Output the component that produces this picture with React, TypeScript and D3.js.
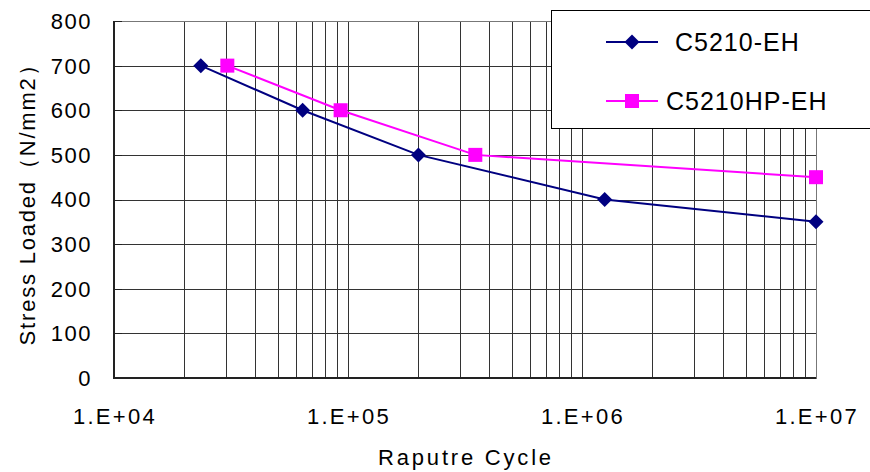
import React from "react";
import * as d3 from "d3";

const yTicks = [0, 100, 200, 300, 400, 500, 600, 700, 800];
const xDecades = [1e4, 1e5, 1e6, 1e7];
const xTickLabels = ["1.E+04", "1.E+05", "1.E+06", "1.E+07"];
const seriesNames = ["C5210-EH", "C5210HP-EH"];
const ehCycles = [2.35e4, 6.4e4, 2.0e5, 1.25e6, 1e7];
const ehStress = [700, 600, 500, 400, 350];
const hpCycles = [3.05e4, 9.3e4, 3.5e5, 1e7];
const hpStress = [700, 600, 500, 450];
const colors = ["#000080", "#FF00FF"];

const W = 870, H = 472;
const L = 114, R = 816, T = 21, B = 378;

export default function App() {
  const x = d3.scaleLog().domain([1e4, 1e7]).range([L, R]);
  const y = d3.scaleLinear().domain([0, 800]).range([B, T]);
  const minor: number[] = [];
  for (let d = 0; d < 3; d++) {
    for (let k = 2; k <= 9; k++) minor.push(xDecades[d] * k);
  }
  const line = d3.line<[number, number]>().x(d => x(d[0])).y(d => y(d[1]));
  const eh = ehCycles.map((c, i) => [c, ehStress[i]] as [number, number]);
  const hp = hpCycles.map((c, i) => [c, hpStress[i]] as [number, number]);
  const font = "'Liberation Sans', Arial, sans-serif";
  const diamond = (cx: number, cy: number, key: any) => (
    <path key={key} d={`M${cx},${cy - 7.5}L${cx + 7.5},${cy}L${cx},${cy + 7.5}L${cx - 7.5},${cy}Z`} fill={colors[0]} />
  );
  const square = (cx: number, cy: number, key: any) => (
    <rect key={key} x={cx - 7} y={cy - 7} width={14} height={14} fill={colors[1]} />
  );
  return (
    <svg width={W} height={H} style={{ position: "absolute", left: 0, top: 0, background: "#fff" }}>
      <rect x={0} y={0} width={W} height={H} fill="#fff" />
      {minor.concat(xDecades).map((v, i) => (
        <line key={"v" + i} x1={Math.round(x(v)) + 0.5} x2={Math.round(x(v)) + 0.5} y1={T} y2={B} stroke="#333" strokeWidth={1} />
      ))}
      {yTicks.map((v, i) => (
        <line key={"h" + i} x1={L} x2={R} y1={Math.round(y(v)) + 0.5} y2={Math.round(y(v)) + 0.5} stroke="#333" strokeWidth={1} />
      ))}
      <rect x={L + 0.5} y={T + 0.5} width={R - L} height={B - T} fill="none" stroke="#777" strokeWidth={1} />
      <line x1={L} x2={L} y1={T} y2={B + 1} stroke="#222" strokeWidth={2} />
      <line x1={L} x2={R} y1={B} y2={B} stroke="#222" strokeWidth={2} />
      {yTicks.map((v, i) => (
        <line key={"yt" + i} x1={L} x2={L + 8} y1={Math.round(y(v)) + 0.5} y2={Math.round(y(v)) + 0.5} stroke="#222" strokeWidth={1} />
      ))}
      {yTicks.map((v, i) => (
        <text key={"yl" + i} x={92} y={y(v)} dy="0.36em" textAnchor="end" fontFamily={font} fontSize={22} letterSpacing={1.5} fill="#000">{v}</text>
      ))}
      {xDecades.map((v, i) => (
        <text key={"xl" + i} x={x(v) + 1} y={424} textAnchor="middle" fontFamily={font} fontSize={22} letterSpacing={2.3} fill="#000">{xTickLabels[i]}</text>
      ))}
      <text x={466} y={465} textAnchor="middle" fontFamily={font} fontSize={22} letterSpacing={2.8} fill="#000">Raputre Cycle</text>
      <text transform={`translate(35,${199}) rotate(-90)`} textAnchor="middle" fontFamily={font} fontSize={22} letterSpacing={1.8} fill="#000">Stress Loaded（N/mm2）</text>
      <path d={line(eh) || ""} fill="none" stroke={colors[0]} strokeWidth={2} />
      <path d={line(hp) || ""} fill="none" stroke={colors[1]} strokeWidth={2} />
      {eh.map((d, i) => diamond(x(d[0]), y(d[1]), "d" + i))}
      {hp.map((d, i) => square(x(d[0]), y(d[1]), "s" + i))}
      <rect x={551.5} y={10.5} width={330} height={118} fill="#fff" stroke="#000" strokeWidth={1} />
      <line x1={606} x2={658} y1={42} y2={42} stroke={colors[0]} strokeWidth={2} />
      {diamond(632, 42, "ld")}
      <line x1={606} x2={658} y1={101} y2={101} stroke={colors[1]} strokeWidth={2} />
      {square(632, 101, "ls")}
      <text x={675} y={42} dy="0.36em" fontFamily={font} fontSize={25} letterSpacing={1} fill="#000">{seriesNames[0]}</text>
      <text x={666} y={101} dy="0.36em" fontFamily={font} fontSize={25} letterSpacing={1} fill="#000">{seriesNames[1]}</text>
    </svg>
  );
}
